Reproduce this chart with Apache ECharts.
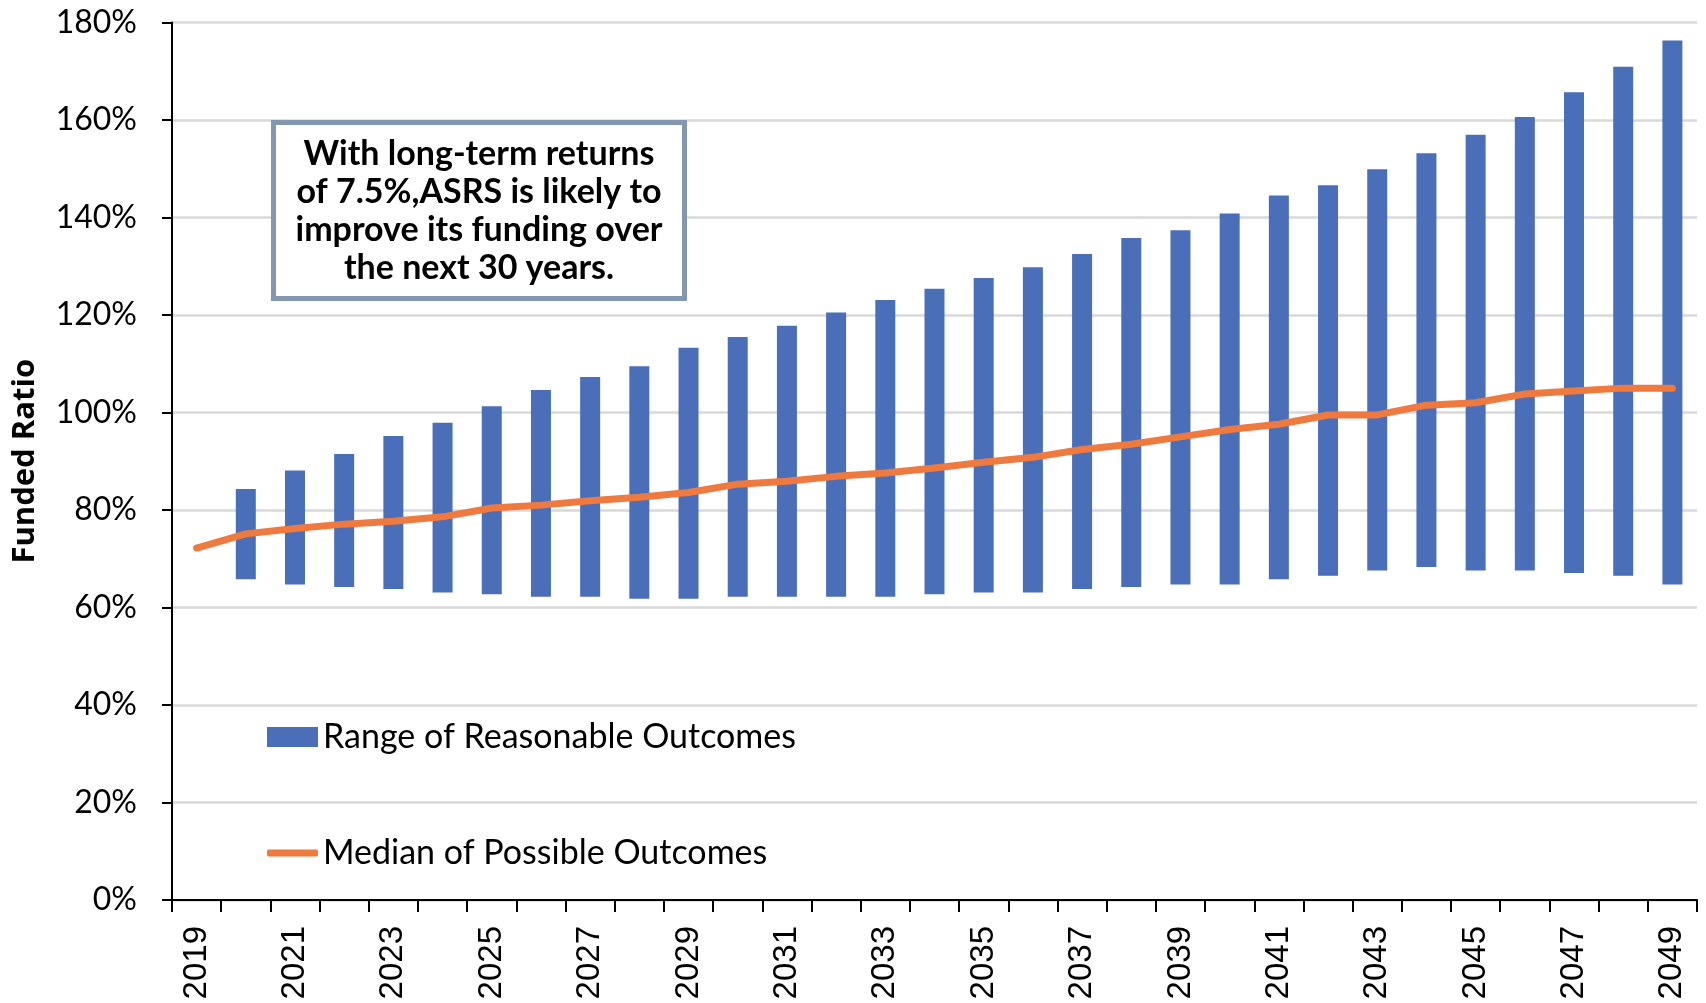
<!DOCTYPE html>
<html>
<head>
<meta charset="utf-8">
<title>Funded Ratio</title>
<script src="https://cdn.jsdelivr.net/npm/echarts@6/dist/echarts.min.js"></script>
<style>
    html, body { margin: 0; padding: 0; background: #fff; }
    #chart { width: 1706px; height: 1003px; }
</style>
</head>
<body>
<div id="chart"></div>
<script>
// 年份
const years = ['2019', '2020', '2021', '2022', '2023', '2024', '2025', '2026', '2027', '2028',
    '2029', '2030', '2031', '2032', '2033', '2034', '2035', '2036', '2037', '2038',
    '2039', '2040', '2041', '2042', '2043', '2044', '2045', '2046', '2047', '2048', '2049'];
// 区间下限 / 上限 (%), 2019 没有柱子
const rangeLow = [null, 65.8, 64.7, 64.2, 63.8, 63.1, 62.7, 62.2, 62.2, 61.8,
    61.8, 62.2, 62.2, 62.2, 62.2, 62.7, 63.1, 63.1, 63.8, 64.2,
    64.7, 64.7, 65.8, 66.5, 67.6, 68.3, 67.6, 67.6, 67.1, 66.5, 64.7];
const rangeHigh = [null, 84.3, 88.1, 91.5, 95.2, 97.9, 101.3, 104.6, 107.3, 109.5,
    113.3, 115.5, 117.8, 120.5, 123.1, 125.4, 127.6, 129.8, 132.5, 135.8,
    137.4, 140.8, 144.5, 146.6, 149.9, 153.2, 157.0, 160.6, 165.7, 170.9, 176.3];
// 中位数 (%)
const median = [72.2, 75.1, 76.2, 77.1, 77.7, 78.6, 80.4, 81.0, 81.9, 82.6,
    83.6, 85.3, 85.9, 86.9, 87.6, 88.6, 89.8, 90.8, 92.4, 93.5,
    95.0, 96.5, 97.6, 99.5, 99.5, 101.5, 102.0, 103.8, 104.4, 105.0, 105.0];

const rangeName = 'Range of Reasonable Outcomes';
const medianName = 'Median of Possible Outcomes';

// 柱子 = 透明底座 + 区间高度
const rangeBase = rangeLow.map(v => v === null ? '-' : v);
const rangeSpan = rangeHigh.map((v, i) => v === null ? '-' : +(v - rangeLow[i]).toFixed(1));

const legendText = { fontFamily: 'Lato', fontSize: 34, color: '#000', lineHeight: 38 };

const chart = echarts.init(document.getElementById('chart'));
const option = {
    animation: false,
    grid: { left: 172, right: 9, top: 22.5, bottom: 103, containLabel: false },
    legend: [
        {
            data: [rangeName],
            left: 262, top: 713,
            itemWidth: 51, itemHeight: 20,
            icon: 'rect',
            textStyle: legendText
        },
        {
            data: [medianName],
            left: 262, top: 829,
            itemWidth: 51, itemHeight: 7,
            icon: 'roundRect',
            itemStyle: { color: '#ee7a3f' },
            textStyle: legendText
        }
    ],
    xAxis: {
        type: 'category',
        data: years,
        boundaryGap: true,
        axisLine: { lineStyle: { color: '#000', width: 2 } },
        axisTick: { show: true, interval: 0, length: 12, lineStyle: { color: '#000', width: 2 } },
        axisLabel: {
            interval: 1,
            rotate: 90,
            margin: 26,
            fontFamily: 'Liberation Sans',
            fontSize: 33,
            color: '#000'
        }
    },
    yAxis: {
        type: 'value',
        min: 0, max: 180, interval: 20,
        name: 'Funded Ratio',
        nameLocation: 'middle',
        nameGap: 131,
        nameRotate: 90,
        nameTextStyle: { fontFamily: 'Open Sans', fontWeight: 'bold', fontSize: 31, color: '#000' },
        axisLine: { show: true, lineStyle: { color: '#000', width: 2 } },
        axisTick: { show: true, length: 10, lineStyle: { color: '#000', width: 2 } },
        axisLabel: {
            formatter: '{value}%',
            margin: 35,
            fontFamily: 'Lato',
            fontSize: 32,
            color: '#000'
        },
        splitLine: { lineStyle: { color: '#d9d9d9', width: 2.5 } }
    },
    series: [
        {
            name: 'base',
            type: 'bar',
            stack: 'range',
            barWidth: 20,
            itemStyle: { color: 'transparent' },
            emphasis: { disabled: true },
            data: rangeBase
        },
        {
            name: rangeName,
            type: 'bar',
            stack: 'range',
            barWidth: 20,
            itemStyle: { color: '#4a6fb8' },
            data: rangeSpan
        },
        {
            name: medianName,
            type: 'line',
            symbol: 'none',
            lineStyle: { color: '#ee7a3f', width: 7, cap: 'round', join: 'round' },
            itemStyle: { color: '#ee7a3f' },
            z: 5,
            data: median
        }
    ],
    // 说明文本框
    graphic: [
        {
            type: 'rect',
            shape: { x: 273.5, y: 122.5, width: 411, height: 176 },
            style: { fill: '#fff', stroke: '#8497b0', lineWidth: 5 },
            z: 10
        },
        {
            type: 'text',
            x: 479, y: 135,
            style: {
                text: 'With long-term returns\nof 7.5%,ASRS is likely to\nimprove its funding over\nthe next 30 years.',
                align: 'center',
                fontFamily: 'Lato',
                fontWeight: 'bold',
                fontSize: 34,
                lineHeight: 38,
                fill: '#000'
            },
            z: 11
        }
    ]
};
chart.setOption(option);
</script>
</body>
</html>
